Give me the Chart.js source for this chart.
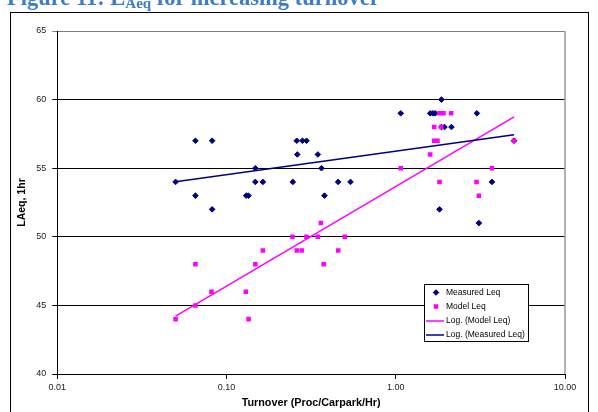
<!DOCTYPE html>
<html>
<head>
<meta charset="utf-8">
<script src="https://cdn.jsdelivr.net/npm/chart.js@4"></script>
<style>
  html, body { margin: 0; padding: 0; background: #fff; overflow: hidden; }
  #wrap { position: relative; width: 598px; height: 412px; }
  #c { position: absolute; left: 0; top: 0; }
  #fig-title {
    position: absolute; left: 7px; top: -13px; white-space: nowrap;
    font: bold 22.5px "Liberation Serif", "Times New Roman", serif; line-height: 22px;
    color: #3f7bc6;
  }
  #fig-title sub { font-size: 15px; vertical-align: baseline; position: relative; top: 3px; }
</style>
</head>
<body>
<div id="wrap">
  <canvas id="c" width="598" height="412"></canvas>
  <div id="fig-title">Figure 11: L<sub>Aeq</sub> for increasing turnover</div>
</div>
<script>
  // values
  const measuredX = [0.05, 0.0655, 0.0822, 0.0655, 0.0822, 0.1306, 0.1348, 0.148, 0.148, 0.164,
                     0.2465, 0.26, 0.281, 0.297, 0.262, 0.3465, 0.364, 0.379, 0.4566, 0.54,
                     1.07, 1.597, 1.656, 1.71, 1.862, 1.862, 1.94, 2.134, 3.015, 1.813,
                     3.10, 3.70, 5.0];
  const measuredY = [54, 57, 57, 53, 52, 53, 53, 55, 54, 54,
                     54, 57, 57, 57, 56, 56, 55, 53, 54, 54,
                     59, 59, 59, 59, 60, 58, 58, 58, 59, 52,
                     51, 54, 57];
  const modelX = [0.05, 0.0655, 0.0655, 0.0815, 0.13, 0.135, 0.148, 0.164, 0.245, 0.26,
                  0.278, 0.2966, 0.3465, 0.361, 0.375, 0.457, 0.5, 1.07, 1.597, 1.686,
                  1.686, 1.764, 1.813, 1.855, 1.914, 2.125, 1.813, 3.0, 3.1, 3.7, 5.0];
  const modelY = [44, 48, 45, 46, 46, 44, 48, 49, 50, 49,
                  49, 50, 50, 51, 48, 49, 50, 55, 56, 58,
                  57, 57, 59, 58, 59, 59, 54, 54, 53, 55, 57];
  const xTicks = [0.01, 0.1, 1, 10];
  const yMin = 40, yMax = 65, yStep = 5;

  const FONT = 'Liberation Sans, Arial, sans-serif';
  const NAVY = '#000080';
  const MAGENTA = '#ff00ff';

  function pts(xs, ys) { return xs.map((x, i) => ({ x: x, y: ys[i] })); }

  // Excel-style logarithmic trendline: y = a ln(x) + b, over the data range
  function logFit(xs, ys) {
    const n = xs.length;
    let sx = 0, sy = 0, sxx = 0, sxy = 0;
    xs.forEach((x, i) => {
      const l = Math.log(x);
      sx += l; sy += ys[i]; sxx += l * l; sxy += l * ys[i];
    });
    const a = (n * sxy - sx * sy) / (n * sxx - sx * sx);
    const b = (sy - a * sx) / n;
    const lo = Math.min(...xs), hi = Math.max(...xs);
    return [{ x: lo, y: a * Math.log(lo) + b }, { x: hi, y: a * Math.log(hi) + b }];
  }

  const framePlugin = {
    id: 'frame',
    beforeDraw(chart) {
      const ctx = chart.ctx;
      ctx.save();
      ctx.fillStyle = '#fff';
      ctx.fillRect(0, 0, chart.width, chart.height);
      ctx.strokeStyle = '#000';
      ctx.lineWidth = 1;
      ctx.strokeRect(10.5, 12.5, 578, 460);
      ctx.restore();
    },
    beforeDatasetsDraw(chart) {
      const { ctx, chartArea: a } = chart;
      ctx.save();
      ctx.strokeStyle = '#999';
      ctx.lineWidth = 1.5;
      ctx.beginPath();
      ctx.moveTo(a.right, a.top);
      ctx.lineTo(a.right, a.bottom);
      ctx.stroke();
      ctx.restore();
    }
  };

  // boxed legend inside the plot, like the original
  const boxLegend = {
    id: 'boxLegend',
    afterDraw(chart) {
      const ctx = chart.ctx;
      const ds = chart.data.datasets;
      const bx = 424, by = 284, bw = 104, bh = 57;
      ctx.save();
      ctx.fillStyle = '#fff';
      ctx.fillRect(bx, by, bw, bh);
      ctx.strokeStyle = '#000';
      ctx.lineWidth = 1;
      ctx.strokeRect(bx + 0.5, by + 0.5, bw, bh);
      ctx.font = '8.5px ' + FONT;
      ctx.textBaseline = 'middle';
      const rows = [292.5, 306.5, 321, 335];
      ds.forEach((d, i) => {
        const y = rows[i];
        if (d.type === 'line') {
          ctx.strokeStyle = d.borderColor;
          ctx.lineWidth = 1.5;
          ctx.beginPath();
          ctx.moveTo(426, y);
          ctx.lineTo(444, y);
          ctx.stroke();
        } else {
          ctx.fillStyle = d.backgroundColor;
          ctx.strokeStyle = d.borderColor;
          ctx.lineWidth = d.borderWidth;
          Chart.helpers.drawPoint(ctx, {
            pointStyle: d.pointStyle, radius: d.pointRadius, borderWidth: d.borderWidth, rotation: 0
          }, 436, y);
        }
        ctx.fillStyle = '#000';
        ctx.fillText(d.label, 446, y);
      });
      ctx.restore();
    }
  };

  new Chart(document.getElementById('c'), {
    type: 'scatter',
    data: {
      datasets: [
        {
          label: 'Measured Leq', data: pts(measuredX, measuredY), order: 3,
          pointStyle: 'rectRot', pointRadius: 2.8, backgroundColor: NAVY, borderColor: NAVY, borderWidth: 1
        },
        {
          label: 'Model Leq', data: pts(modelX, modelY), order: 2,
          pointStyle: 'rect', pointRadius: 3.2, backgroundColor: MAGENTA, borderColor: MAGENTA, borderWidth: 0
        },
        {
          label: 'Log. (Model Leq)', type: 'line', data: logFit(modelX, modelY), order: 1,
          borderColor: MAGENTA, borderWidth: 1.5, pointRadius: 0, fill: false
        },
        {
          label: 'Log. (Measured Leq)', type: 'line', data: logFit(measuredX, measuredY), order: 0,
          borderColor: NAVY, borderWidth: 1.5, pointRadius: 0, fill: false
        }
      ]
    },
    options: {
      responsive: false,
      animation: false,
      events: [],
      layout: { padding: { left: 10, top: 31, right: 33, bottom: 0 } },
      plugins: { legend: { display: false }, tooltip: { enabled: false } },
      scales: {
        x: {
          type: 'logarithmic', min: 0.01, max: 10,
          afterBuildTicks: s => { s.ticks = xTicks.map(v => ({ value: v })); },
          afterFit: s => { s.height = 38; },
          ticks: {
            callback: v => Number(v).toFixed(2), autoSkip: false, maxRotation: 0,
            color: '#222', padding: 3, font: { family: FONT, size: 9 }
          },
          grid: { drawOnChartArea: false, drawTicks: true, tickLength: 5, color: '#000' },
          border: { color: '#000', width: 1 },
          title: {
            display: true, text: 'Turnover (Proc/Carpark/Hr)', color: '#000',
            font: { family: FONT, size: 10.8, weight: 'bold' }, padding: { top: 0, bottom: 2 }
          }
        },
        y: {
          min: yMin, max: yMax,
          afterFit: s => { s.width = 47.3; },
          ticks: { stepSize: yStep, color: '#222', padding: 6, font: { family: FONT, size: 9 } },
          grid: {
            color: c => (c.tick && c.tick.value === yMax) ? '#808080' : '#000',
            tickLength: 5, lineWidth: 1
          },
          border: { color: '#000', width: 1 },
          title: {
            display: true, text: 'LAeq, 1hr', color: '#000',
            font: { family: FONT, size: 10.5, weight: 'bold' }, padding: { top: 5.5, bottom: 0 }
          }
        }
      }
    },
    plugins: [framePlugin, boxLegend]
  });
</script>
</body>
</html>
